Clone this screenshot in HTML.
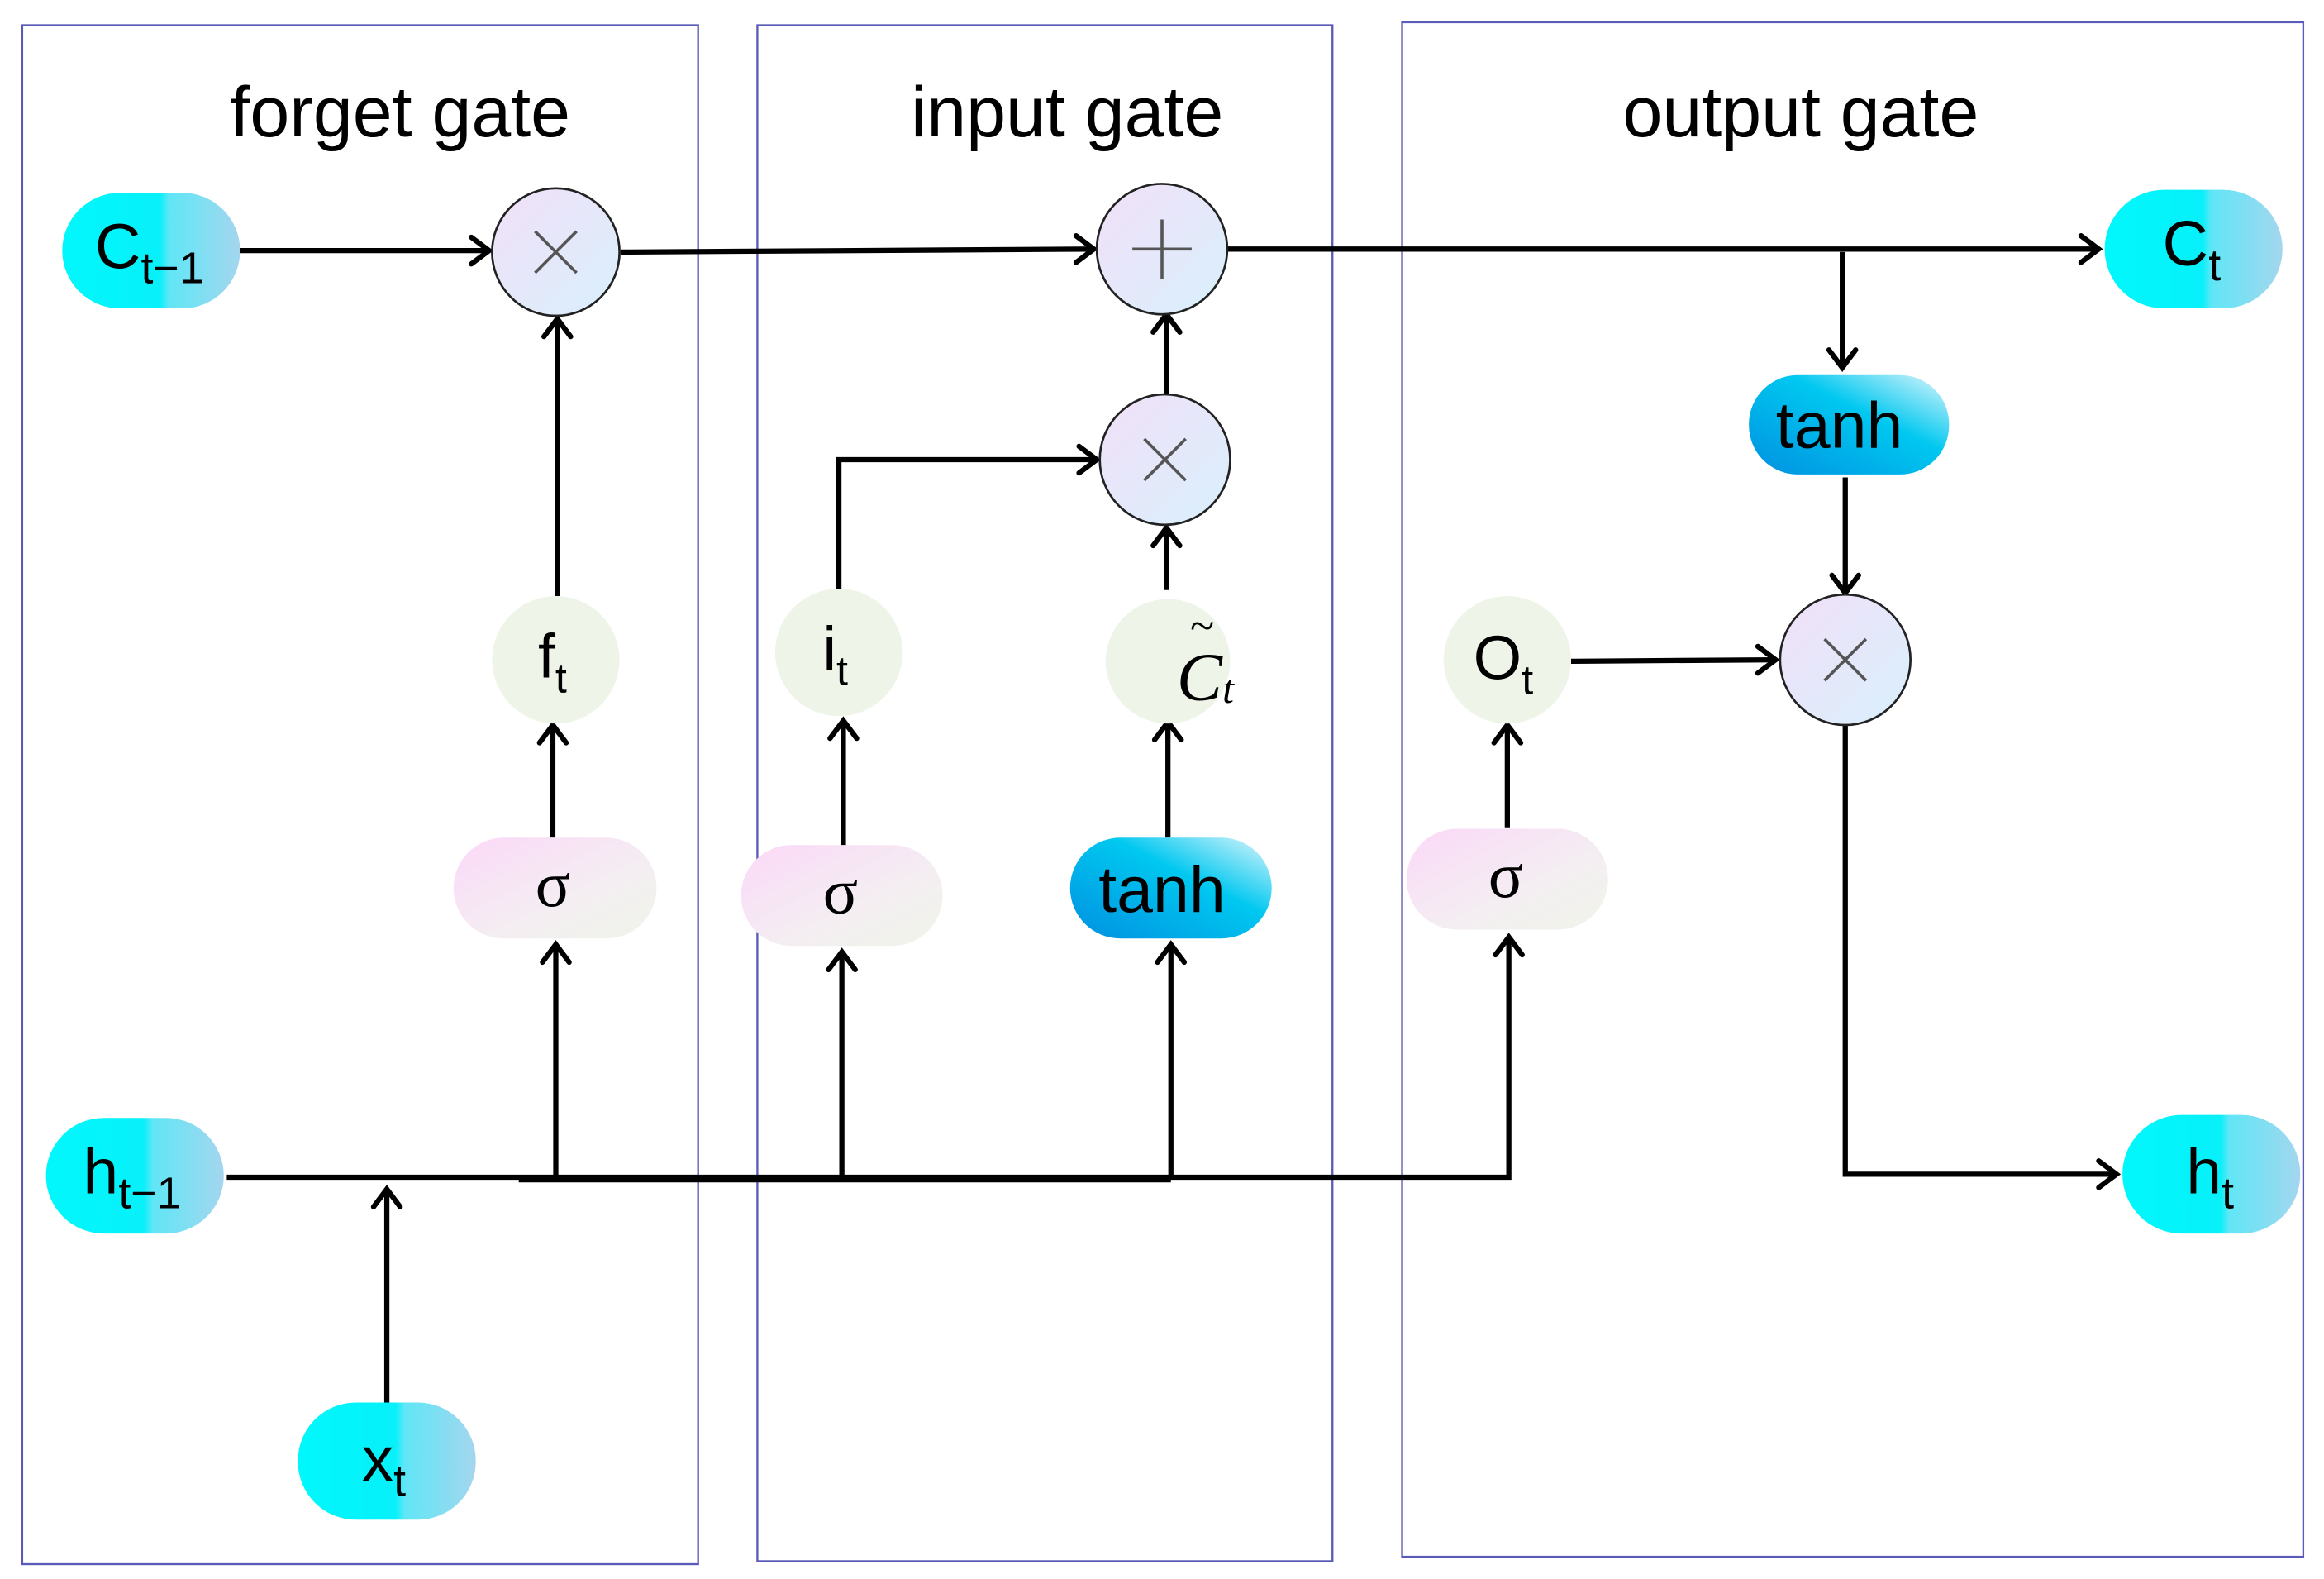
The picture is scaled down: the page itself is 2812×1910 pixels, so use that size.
<!DOCTYPE html>
<html><head><meta charset="utf-8"><style>
html,body{margin:0;padding:0;background:#fff;width:2812px;height:1910px;overflow:hidden}
svg{display:block}
text{font-family:"Liberation Sans",sans-serif;fill:#000}
.s{font-family:"Liberation Serif",serif}
</style></head><body>
<svg width="2812" height="1910" viewBox="0 0 1568 1065" xmlns="http://www.w3.org/2000/svg">
<defs>
<linearGradient id="cy" x1="0" x2="1" y1="0" y2="0">
<stop offset="0" stop-color="#00f8fc"/><stop offset="0.55" stop-color="#08f0fa"/><stop offset="0.6" stop-color="#60e6f6"/><stop offset="1" stop-color="#a4d6ee"/></linearGradient>
<linearGradient id="bl" x1="0" y1="1" x2="1" y2="0">
<stop offset="0" stop-color="#0090e0"/><stop offset="0.6" stop-color="#00c8f0"/><stop offset="1" stop-color="#e0f6fc"/></linearGradient>
<linearGradient id="pk" x1="0" y1="0" x2="1" y2="1">
<stop offset="0" stop-color="#fbd8f8"/><stop offset="0.6" stop-color="#f4eef2"/><stop offset="1" stop-color="#f0f4ea"/></linearGradient>
<linearGradient id="op" x1="0" y1="0" x2="1" y2="1">
<stop offset="0" stop-color="#f2e0f8"/><stop offset="1" stop-color="#d8f0fc"/></linearGradient>
</defs>
<g fill="none" stroke="#5a5ab8" stroke-width="1.3">
<rect x="15" y="17" width="456" height="1038"/>
<rect x="511" y="17" width="388" height="1036"/>
<rect x="946" y="15" width="608" height="1035"/>
</g>
<text x="270" y="92" font-size="48" text-anchor="middle">forget gate</text>
<text x="720" y="92" font-size="48" text-anchor="middle">input gate</text>
<text x="1215" y="92" font-size="48" text-anchor="middle">output gate</text>

<g stroke="#000" stroke-width="3.5" fill="none">
<path d="M162 169H330"/><path d="M419 170L738 168"/><path d="M828 168H1416"/>
<path d="M1243 170V248"/><path d="M1245 322V400"/><path d="M1060 446L1198 445"/>
<path d="M1245 489V792H1428"/>
<path d="M153 794H1018V632"/><path d="M350 795H790" stroke-width="5"/>
<path d="M261 946V802"/>
<path d="M375 794V637"/><path d="M373 565V489"/><path d="M376 402V215"/>
<path d="M568 794V642"/><path d="M569 570V486"/><path d="M566 398V310H740"/>
<path d="M790 794V637"/><path d="M788 565V487"/><path d="M787 398V356"/><path d="M787 268V212"/>
<path d="M1017 558V489"/>
</g>
<g stroke="#000" stroke-width="3.5" fill="none" stroke-linecap="round">
<path d="M318 160L330 169L318 178"/>
<path d="M726 159L738 168L726 177"/>
<path d="M1404 159L1416 168L1404 177"/>
<path d="M1234 236L1243 248L1252 236"/>
<path d="M1236 388L1245 400L1254 388"/>
<path d="M1186 436L1198 445L1186 454"/>
<path d="M1416 783L1428 792L1416 801"/>
<path d="M1009 644L1018 632L1027 644"/>
<path d="M252 814L261 802L270 814"/>
<path d="M366 649L375 637L384 649"/>
<path d="M364 501L373 489L382 501"/>
<path d="M367 227L376 215L385 227"/>
<path d="M559 654L568 642L577 654"/>
<path d="M560 498L569 486L578 498"/>
<path d="M728 301L740 310L728 319"/>
<path d="M781 649L790 637L799 649"/>
<path d="M779 499L788 487L797 499"/>
<path d="M778 368L787 356L796 368"/>
<path d="M778 224L787 212L796 224"/>
<path d="M1008 501L1017 489L1026 501"/>
</g>

<g stroke="#222" stroke-width="1.5" fill="url(#op)">
<circle cx="375" cy="170" r="43"/><circle cx="784" cy="168" r="44"/>
<circle cx="786" cy="310" r="44"/><circle cx="1245" cy="445" r="44"/>
</g>
<g stroke="#555" stroke-width="2">
<path d="M361 156L389 184M389 156L361 184"/>
<path d="M764 168H804M784 148V188"/>
<path d="M772 296L800 324M800 296L772 324"/>
<path d="M1231 431L1259 459M1259 431L1231 459"/>
</g>

<g fill="#eef5e8">
<circle cx="375" cy="445" r="43"/><circle cx="566" cy="440" r="43"/>
<ellipse cx="788" cy="446" rx="42" ry="42"/><circle cx="1017" cy="445" r="43"/>
</g>
<text x="363" y="457" font-size="42">f<tspan font-size="28" dy="10">t</tspan></text>
<text x="555" y="452" font-size="42">i<tspan font-size="28" dy="10">t</tspan></text>
<text x="794" y="472" font-size="46" class="s" font-style="italic">C<tspan font-size="28" dy="2">t</tspan></text>
<text x="803" y="432" font-size="30" class="s">~</text>
<text x="994" y="458" font-size="42">O<tspan font-size="28" dy="10">t</tspan></text>

<g fill="url(#pk)">
<rect x="306" y="565" width="137" height="68" rx="34"/>
<rect x="500" y="570" width="136" height="68" rx="34"/>
<rect x="949" y="559" width="136" height="68" rx="34"/>
</g>
<text x="373" y="611" font-size="44" class="s" text-anchor="middle">σ</text>
<text x="567" y="616" font-size="44" class="s" text-anchor="middle">σ</text>
<text x="1016" y="605" font-size="44" class="s" text-anchor="middle">σ</text>

<g fill="url(#bl)">
<rect x="722" y="565" width="136" height="68" rx="34"/>
<rect x="1180" y="253" width="135" height="67" rx="33"/>
</g>
<text x="784" y="615" font-size="44" text-anchor="middle">tanh</text>
<text x="1241" y="302" font-size="44" text-anchor="middle">tanh</text>

<g fill="url(#cy)">
<rect x="42" y="130" width="120" height="78" rx="39"/>
<rect x="1420" y="128" width="120" height="80" rx="40"/>
<rect x="31" y="754" width="120" height="78" rx="39"/>
<rect x="201" y="946" width="120" height="79" rx="39"/>
<rect x="1432" y="752" width="120" height="80" rx="40"/>
</g>
<text x="64" y="181" font-size="43">C<tspan font-size="30" dy="10">t−1</tspan></text>
<text x="1459" y="179" font-size="43">C<tspan font-size="30" dy="10">t</tspan></text>
<text x="56" y="805" font-size="43">h<tspan font-size="30" dy="10">t−1</tspan></text>
<text x="244" y="999" font-size="43">x<tspan font-size="30" dy="10">t</tspan></text>
<text x="1475" y="805" font-size="43">h<tspan font-size="30" dy="10">t</tspan></text>
</svg>
</body></html>
